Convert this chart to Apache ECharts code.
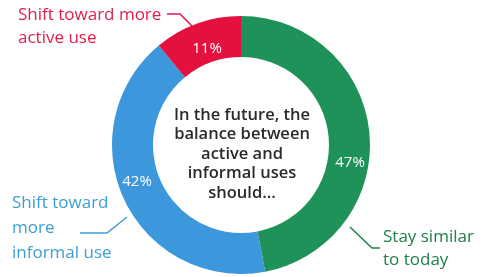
<!DOCTYPE html>
<html>
<head>
<meta charset="utf-8">
<script src="https://cdn.jsdelivr.net/npm/echarts@6/dist/echarts.min.js"></script>
<style>
  html, body { margin: 0; padding: 0; background: #fff; }
  #chart { width: 487px; height: 277px; }
</style>
</head>
<body>
<div id="chart"></div>
<script>
// answers, clockwise from 12 o'clock
const categories = ['Stay similar\nto today', 'Shift toward\nmore\ninformal use', 'Shift toward more\nactive use']
const shares = [47, 42, 11]
const colors = ['#1f925a', '#3c97dc', '#e4113f']
const labelColors = ['#1f8049', '#3b9fcf', '#e21d4c']
const centerText = 'In the future, the\nbalance between\nactive and\ninformal uses\nshould...'

// label placement (pixels) for percent labels and outer labels
const pctPos = [[350, 163], [137, 182], [207, 49]]
const outerPos = [
  { x: 383, y: 249, lh: 23, line: [[350, 227], [372, 248], [380, 248]] },
  { x: 12, y: 228, lh: 25, line: [[127, 217], [107, 233], [80, 233]] },
  { x: 18, y: 27, lh: 23, line: [[192, 26], [180, 14], [167, 14]] }
]

const chart = echarts.init(document.getElementById('chart'))
const font = '"Open Sans", sans-serif'

chart.setOption({
  backgroundColor: '#ffffff',
  animation: false,
  graphic: [{
    type: 'text',
    style: {
      text: centerText,
      x: 242,
      y: 154,
      textAlign: 'center',
      textVerticalAlign: 'middle',
      font: '600 16.5px ' + font,
      lineHeight: 19.5,
      fill: '#2a2a2a'
    }
  }],
  series: [{
    type: 'pie',
    center: [241, 145],
    radius: [88, 129],
    startAngle: 90,
    clockwise: true,
    silent: true,
    data: categories.map((c, i) => ({
      name: c,
      value: shares[i],
      itemStyle: { color: colors[i] }
    })),
    itemStyle: { borderWidth: 0 },
    label: {
      position: 'inside',
      formatter: '{c}%',
      color: '#ffffff',
      fontFamily: font,
      fontSize: 15
    },
    labelLine: { show: false },
    labelLayout: function (p) {
      const pos = pctPos[p.dataIndex]
      return { x: pos[0], y: pos[1], align: 'center', verticalAlign: 'middle' }
    }
  }, {
    type: 'pie',
    center: [241, 145],
    radius: [88, 129],
    startAngle: 90,
    clockwise: true,
    silent: true,
    data: categories.map((c, i) => ({
      name: c,
      value: shares[i],
      itemStyle: { color: 'transparent' },
      label: { color: labelColors[i], lineHeight: outerPos[i].lh },
      labelLine: { lineStyle: { color: labelColors[i] } }
    })),
    label: {
      position: 'outside',
      formatter: '{b}',
      fontFamily: font,
      fontSize: 17,
      overflow: 'none'
    },
    labelLine: {
      show: true,
      lineStyle: { width: 1.5 }
    },
    labelLayout: function (p) {
      const o = outerPos[p.dataIndex]
      return { x: o.x, y: o.y, align: 'left', verticalAlign: 'middle', labelLinePoints: o.line }
    }
  }]
})
</script>
</body>
</html>
